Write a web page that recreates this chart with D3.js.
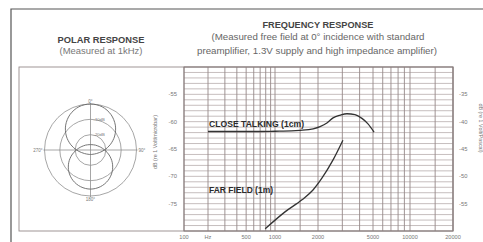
<!DOCTYPE html>
<html><head><meta charset="utf-8">
<script src="https://cdn.jsdelivr.net/npm/d3@7"></script>
<style>body{margin:0;background:#fff}svg{display:block}text{font-family:"Liberation Sans",Arial,Helvetica,sans-serif}</style>
</head><body><svg id="c" width="483" height="242"></svg>
<script>
// ---- data ----
const closeFreq = [200, 550, 1000, 1300, 1500, 1850, 2070, 2320, 2570, 2900, 3240, 3700, 4160, 4600, 5100];
const closeDb   = [-61.8, -61.8, -61.75, -61.7, -61.6, -61.3, -60.9, -60.25, -59.3, -58.8, -58.55, -58.7, -59.4, -60.4, -61.9];
const farFreq = [790, 1175, 1545, 1845, 2140, 2570, 3030];
const farDb   = [-79.6, -76.5, -74.3, -72.5, -70.3, -67.0, -63.4];
const gridFreqs = [100,200,300,400,500,600,700,800,900,1000,1500,2000,3000,4000,5000,6000,7000,8000,9000,10000,15000,20000];
const xTickValues = [100,200,500,1000,2000,5000,10000,20000];
const xTickLabels = ["100","Hz","500","1000","2000","5000","10000","20000"];
const leftTicks = [-55,-60,-65,-70,-75];
const rightTickLabels = ["-35","-40","-45","-50","-55"];
const polarAngles = [0,15,30,45,60,75,90,105,120,135,150,165,180,195,210,225,240,255,270,285,300,315,330,345];
const frontLobeDb = [0,-0.8,-3.3,-7.1,-11.8,-16.7,-20.9,-23.8,-25.4,-26.3,-26.8,-27.0,-27.1,-27.0,-26.8,-26.3,-25.4,-23.8,-20.9,-16.7,-11.8,-7.1,-3.3,-0.8];
const rearLobeDb  = [-26.5,-26.4,-26.1,-25.5,-24.6,-23.1,-20.7,-17.4,-13.6,-10.0,-7.1,-5.2,-4.5,-5.2,-7.1,-10.0,-13.6,-17.4,-20.7,-23.1,-24.6,-25.5,-26.1,-26.4];
const polarRings = [0,-10,-20];
const ringLabels = ["","-10dB","-20dB"];
const polarAxisLabels = ["0°","90°","180°","270°"];

// ---- drawing ----
const svg = d3.select("#c");
svg.append("rect").attr("width",483).attr("height",242).attr("fill","#fff");

// outer frame
svg.append("path").attr("d","M11,242V9H483").attr("fill","none").attr("stroke","#555").attr("stroke-width",1.2);
// inner box
svg.append("rect").attr("x",19).attr("y",67).attr("width",434).attr("height",164)
  .attr("fill","none").attr("stroke","#958b8b").attr("stroke-width",0.9);

const x = d3.scaleLog().domain([100,200,1000,2000,5000,10000,20000]).range([184,208,275,318,373,410,453]);
const y = d3.scaleLinear().domain([-80,-50]).range([231,67]);

const grid = svg.append("g");
grid.selectAll("line.h").data(d3.range(-80,-49,1)).join("line")
  .attr("x1",x(100)).attr("x2",x(20000)).attr("y1",d=>y(d)).attr("y2",d=>y(d))
  .attr("stroke","#b3a8a8").attr("stroke-width",0.75);
grid.selectAll("line.v").data(gridFreqs).join("line")
  .attr("x1",d=>x(d)).attr("x2",d=>x(d)).attr("y1",y(-50)).attr("y2",y(-80))
  .attr("stroke","#958888").attr("stroke-width",0.9);
grid.append("rect").attr("x",x(100)).attr("y",y(-50)).attr("width",x(20000)-x(100)).attr("height",y(-80)-y(-50))
  .attr("fill","none").attr("stroke","#857a7a").attr("stroke-width",0.9);

// tick labels
svg.selectAll("text.xt").data(xTickValues).join("text")
  .attr("x",d=>x(d)).attr("y",238.5).attr("text-anchor","middle")
  .attr("font-size",5.6).attr("fill","#777").text((d,i)=>xTickLabels[i]);
svg.selectAll("text.yl").data(leftTicks).join("text")
  .attr("x",177).attr("y",d=>y(d)+2).attr("text-anchor","end")
  .attr("font-size",5.8).attr("fill","#777").text(d=>d);
svg.selectAll("text.yr").data(leftTicks).join("text")
  .attr("x",459).attr("y",d=>y(d)+2).attr("text-anchor","start")
  .attr("font-size",5.8).attr("fill","#777").text((d,i)=>rightTickLabels[i]);
svg.append("text").attr("transform","translate(157,142) rotate(-90)").attr("text-anchor","middle")
  .attr("font-size",5.4).attr("fill","#777").text("dB (re 1 Volt/microbar)");
svg.append("text").attr("transform","translate(479,128) rotate(90)").attr("text-anchor","middle")
  .attr("font-size",5.4).attr("fill","#777").text("dB (re 1 Volt/Pascal)");

// curves
const line = d3.line().x(d=>x(d[0])).y(d=>y(d[1])).curve(d3.curveMonotoneX);
svg.append("path").attr("d",line(closeFreq.map((f,i)=>[f,closeDb[i]])))
  .attr("fill","none").attr("stroke","#333").attr("stroke-width",1.3);
svg.append("path").attr("d",line(farFreq.map((f,i)=>[f,farDb[i]])))
  .attr("fill","none").attr("stroke","#333").attr("stroke-width",1.3);

svg.append("text").attr("x",209).attr("y",127.3).attr("font-size",8.7).attr("font-weight","bold")
  .attr("fill","#2b2b2b").attr("textLength",95).attr("lengthAdjust","spacingAndGlyphs").text("CLOSE TALKING (1cm)");
svg.append("text").attr("x",209).attr("y",193.3).attr("font-size",8.5).attr("font-weight","bold")
  .attr("fill","#2b2b2b").attr("textLength",64).attr("lengthAdjust","spacingAndGlyphs").text("FAR FIELD (1m)");

// titles
svg.append("text").attr("x",101).attr("y",42.8).attr("text-anchor","middle").attr("font-size",8.4).attr("font-weight","bold")
  .attr("fill","#444").attr("textLength",87).attr("lengthAdjust","spacingAndGlyphs").text("POLAR RESPONSE");
svg.append("text").attr("x",101).attr("y",54).attr("text-anchor","middle").attr("font-size",8.2)
  .attr("fill","#777").attr("textLength",83).attr("lengthAdjust","spacingAndGlyphs").text("(Measured at 1kHz)");
svg.append("text").attr("x",318).attr("y",28.3).attr("text-anchor","middle").attr("font-size",8.3).attr("font-weight","bold")
  .attr("fill","#444").attr("textLength",111).attr("lengthAdjust","spacingAndGlyphs").text("FREQUENCY RESPONSE");
svg.append("text").attr("x",318).attr("y",39.6).attr("text-anchor","middle").attr("font-size",8.2)
  .attr("fill","#666").attr("textLength",213).attr("lengthAdjust","spacingAndGlyphs").text("(Measured free field at 0° incidence with standard");
svg.append("text").attr("x",317).attr("y",53.6).attr("text-anchor","middle").attr("font-size",8.2)
  .attr("fill","#666").attr("textLength",240).attr("lengthAdjust","spacingAndGlyphs").text("preamplifier, 1.3V supply and high impedance amplifier)");

// polar plot
const cx = 90.5, cy = 150;
const r = d3.scaleLinear().domain([-30,0]).range([0,46]);
const pg = svg.append("g").attr("transform",`translate(${cx},${cy})`);
pg.selectAll("circle").data(polarRings).join("circle").attr("r",d=>r(d))
  .attr("fill","none").attr("stroke","#8f8f8f").attr("stroke-width",0.8);
pg.append("line").attr("x1",-r(0)-1).attr("x2",r(0)+1).attr("stroke","#8f8f8f").attr("stroke-width",0.8);
pg.append("line").attr("y1",-r(0)-1).attr("y2",r(0)+1).attr("stroke","#8f8f8f").attr("stroke-width",0.8);
const radial = d3.lineRadial().angle(d=>d[0]*Math.PI/180).radius(d=>r(d[1])).curve(d3.curveCatmullRomClosed);
pg.append("path").attr("d",radial(polarAngles.map((a,i)=>[a,frontLobeDb[i]])))
  .attr("fill","none").attr("stroke","#666").attr("stroke-width",0.9);
pg.append("path").attr("d",radial(polarAngles.map((a,i)=>[a,rearLobeDb[i]])))
  .attr("fill","none").attr("stroke","#666").attr("stroke-width",0.9);
pg.selectAll("text.rl").data(polarRings.slice(1)).join("text")
  .attr("x",3).attr("y",d=>-r(d)+1.8).attr("font-size",4.2).attr("fill","#777").text((d,i)=>ringLabels[i+1]);
pg.append("text").attr("x",0).attr("y",-r(0)-1.2).attr("text-anchor","middle").attr("font-size",4.5).attr("fill","#777").text(polarAxisLabels[0]);
pg.append("text").attr("x",r(0)+2).attr("y",1.6).attr("text-anchor","start").attr("font-size",4.5).attr("fill","#777").text(polarAxisLabels[1]);
pg.append("text").attr("x",0).attr("y",r(0)+4.8).attr("text-anchor","middle").attr("font-size",4.5).attr("fill","#777").text(polarAxisLabels[2]);
pg.append("text").attr("x",-r(0)-2).attr("y",1.6).attr("text-anchor","end").attr("font-size",4.5).attr("fill","#777").text(polarAxisLabels[3]);
</script></body></html>
